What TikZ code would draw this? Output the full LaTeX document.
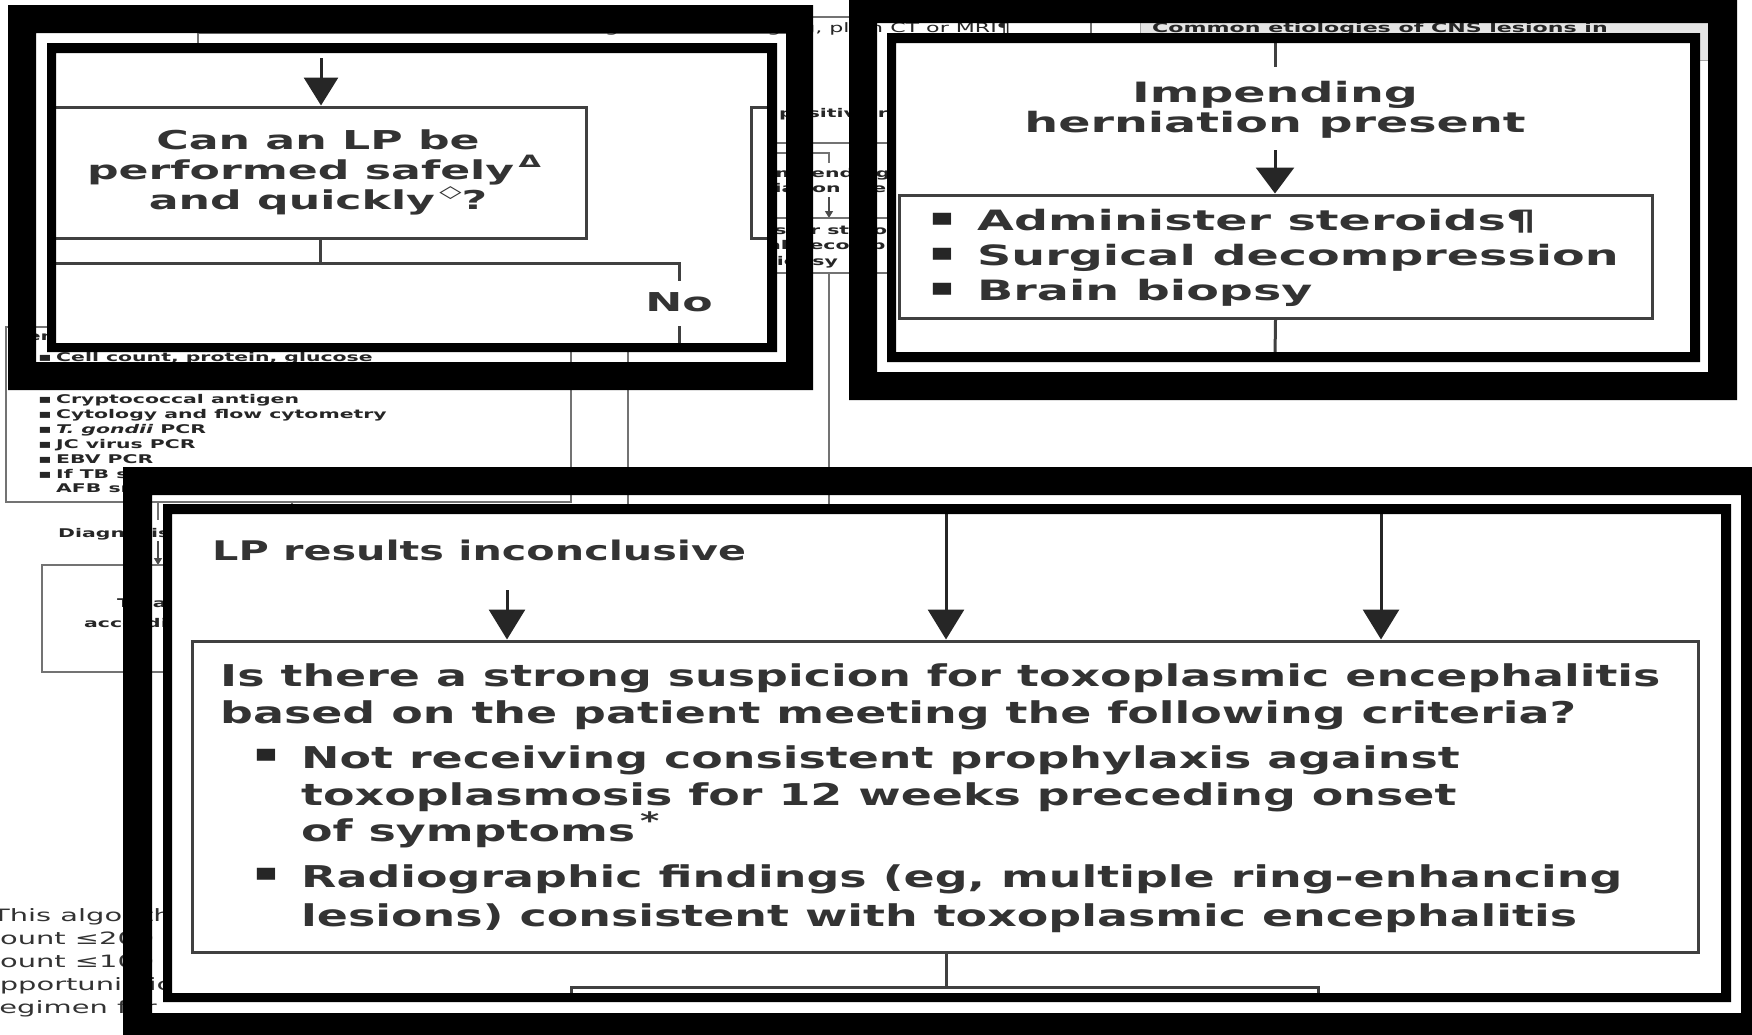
\documentclass[tikz,border=0pt]{standalone}
\usepackage{fontspec}
\usetikzlibrary{arrows.meta}
\newfontfamily\bgf{DejaVu Sans}[FakeStretch=1.7]
\newfontfamily\pA{DejaVu Sans}[FakeStretch=1.7]
\newfontfamily\pC{DejaVu Sans}[FakeStretch=1.53]
\newcommand\fs[2]{\fontsize{#1}{#2}\selectfont}
\newcommand\mysup[1]{\raisebox{0.45em}{\fs{17}{17}#1}}
\tikzset{
  bgline/.style={draw=black!55, line width=1.3pt},
  bgb/.style={font=\bgf\bfseries\fs{12}{15}, text=black!85, inner sep=0pt, anchor=base west},
  bgc/.style={font=\bgf\bfseries\fs{12}{15}, text=black!85, inner sep=0pt, anchor=base},
  bgr/.style={font=\bgf\fs{17}{23}, text=black!80, inner sep=0pt, anchor=base west},
  bgarrow/.style={draw=black!70, line width=1.3pt, -{Triangle[width=8pt,length=7pt]}},
  zline/.style={draw=black!75, line width=3pt},
  zarrow/.style={draw=black!85, line width=3pt, -{Triangle[width=34pt,length=28pt]}},
  zbox/.style={draw=black!75, line width=3pt, inner sep=0pt},
  ta/.style={font=\pA\bfseries\fs{26}{30}, text=black!80, inner sep=0pt, anchor=base},
  tb/.style={font=\pA\bfseries\fs{28}{32}, text=black!80, inner sep=0pt, anchor=base},
  tbl/.style={font=\pA\bfseries\fs{28}{32}, text=black!80, inner sep=0pt, anchor=base west},
  tc/.style={font=\pC\bfseries\fs{30}{36}, text=black!80, inner sep=0pt, anchor=base west},
  zbul/.style={font=\pC\fs{24}{24}, text=black!85, inner sep=0pt, anchor=center},
  ring/.style={fill=black, even odd rule},
}
\begin{document}
\begin{tikzpicture}[x=1pt,y=-1pt]
\useasboundingbox (0,0) rectangle (1752,1034);
\clip (0,0) rectangle (1752,1034);
\fill[white] (0,0) rectangle (1752,1034);

% ================= BACKGROUND FLOWCHART =================
% top strip
\draw[bgline] (198,60) -- (198,33) -- (790,33);
\draw[bgline] (700,17) -- (1091,17);
\draw[bgline] (1091,10) -- (1091,60);
\node[font=\bgf\fs{13}{15}, text=black!85, inner sep=0pt, anchor=base east] (ctmri) at (1011,32) {Obtain urgent brain imaging, plain CT or MRI¶};
\filldraw[fill=black!10, draw=black!35, line width=1pt] (1140,18) rectangle (1712,60);
\node[font=\bgf\bfseries\fs{13}{15}, text=black!85, inner sep=0pt, anchor=base west] (etio) at (1152,32) {Common etiologies of CNS lesions in};

% small herniation branch (unzoomed)
\node[bgb] (posr) at (779,117) {positive results};
\draw[bgline] (700,143) -- (960,143);
\coordinate (hc) at (829,153);
\draw[bgline] (760,153) -- (hc) -- (829,163);
\node[bgc] (imps) at (829,177) {Impending};
\node[bgc] (hers) at (829,192) {herniation present};
\draw[bgarrow] (829,197) -- (829,218);
\node[bgline, minimum width=342pt, minimum height=55pt, inner sep=0pt] (hbox) at (829,245.5) {};
\node[bgb] (bs1) at (674,234) {▪};
\node[bgb] (ts1) at (694,234) {Administer steroids¶};
\node[bgb] (bs2) at (674,249) {▪};
\node[bgb] (ts2) at (694,249) {Surgical decompression};
\node[bgb] (bs3) at (674,265) {▪};
\node[bgb] (ts3) at (694,265) {Brain biopsy};
\draw[bgline] (hbox.south) -- (829,520);

% left CSF box
\node[bgline, minimum width=565pt, minimum height=175pt, inner sep=0pt] (csf) at (288.5,414.5) {};
\node[bgb] (csfh) at (12,340) {Send CSF for:};
\node[bgb] (c0b) at (38,361) {▪};
\node[bgb] (c0) at (56,361) {Cell count, protein, glucose};
\node[bgb] (c1b) at (38,403) {▪};
\node[bgb] (c1) at (56,403) {Cryptococcal antigen};
\node[bgb] (c2b) at (38,418) {▪};
\node[bgb] (c2) at (56,418) {Cytology and flow cytometry};
\node[bgb] (c3b) at (38,433) {▪};
\node[bgb] (c3) at (56,433) {\itshape T. gondii\upshape{} PCR};
\node[bgb] (c4b) at (38,448) {▪};
\node[bgb] (c4) at (56,448) {JC virus PCR};
\node[bgb] (c5b) at (38,463) {▪};
\node[bgb] (c5) at (56,463) {EBV PCR};
\node[bgb] (c6b) at (38,478) {▪};
\node[bgb] (c6) at (56,478) {If TB suspected,};
\node[bgb] (c7) at (56,492) {AFB smear and culture};
\draw[bgline] (628,300) -- (628,520);
\draw[bgline] (292,502) -- (292,520);

\node[bgb] (diag) at (58,537) {Diagnosis made};
\draw[bgline] (158,502) -- (158,520);
\draw[bgarrow] (158,541) -- (158,565);
\node[bgline, minimum width=290pt, minimum height=107pt, inner sep=0pt] (treat) at (187,618.5) {};
\node[bgb] (tr1) at (117,607) {Treat the identified};
\node[bgb] (tr2) at (84,627) {according to diagnosis};

% footnote text
\node[bgr] (alg1) at (-8,921) {This algorithm is intended for};
\node[bgr] (alg2) at (-16,944) {count ≤200 cells};
\node[bgr] (alg3) at (-16,967) {count ≤100 cells};
\node[bgr] (alg4) at (-18,990) {opportunistic infection};
\node[bgr] (alg5) at (-12,1013) {regimen for};

% ================= PANEL 1 =================
\fill[white] (56,53) rectangle (767,343);
\begin{scope}
\clip (56,53) rectangle (767,343);
\node[zbox, minimum width=546pt, minimum height=131pt] (lpbox) at (313,172.5) {};
\coordinate (a1) at (321,58);
\draw[zarrow] (a1) -- (a1 |- lpbox.north);
\node[ta] (q1) at (318,149) {Can an LP be};
\node[ta] (q2) at (314,179) {performed safely\,\mysup{Δ}};
\node[ta] (q3) at (318,209) {and quickly\,\mysup{◇}?};
\coordinate (j1) at (320,263);
\coordinate (j2) at (679,263);
\draw[zline] (lpbox.south -| j1) -- (j1);
\draw[zline] (40,263) -- (j2) -- (679,281);
\node[ta] (no) at (679,311) {No};
\draw[zline] (679,326) -- (679,350);
\node[zbox, minimum width=80pt, minimum height=131pt] (posbox) at (791,172.5) {};
\end{scope}
\fill[ring] (47,43) rectangle (777,352) (56,53) rectangle (767,343);
\fill[ring] (8,5) rectangle (813,390) (36,33) rectangle (786,362);

% ================= PANEL 2 =================
\fill[white] (896,43) rectangle (1690,352);
\begin{scope}
\clip (896,43) rectangle (1690,352);
\coordinate (t2) at (1275,40);
\draw[zline] (t2) -- (1275,67);
\node[tb] (imp) at (1275,102) {Impending};
\node[tb] (her) at (1275,132) {herniation present};
\node[zbox, minimum width=753pt, minimum height=123pt] (sbox) at (1275.5,256.5) {};
\coordinate (a2) at (1275,150);
\draw[zarrow, -{Triangle[width=38pt,length=26pt]}] (a2) -- (a2 |- sbox.north);
\node[zbul] (b1) at (942,219) {▪};
\node[tbl] (s1) at (977,230) {Administer steroids¶};
\node[zbul] (b2) at (942,254) {▪};
\node[tbl] (s2) at (977,265) {Surgical decompression};
\node[zbul] (b3) at (942,289) {▪};
\node[tbl] (s3) at (977,300) {Brain biopsy};
\draw[zline] (sbox.south) -- (1275,356);
\end{scope}
\fill[ring] (887,33) rectangle (1700,362) (896,43) rectangle (1690,352);
\fill[ring] (849,0) rectangle (1737,400) (877,23) rectangle (1708,372);

% ================= PANEL 3 =================
\fill[white] (172,514) rectangle (1721,993);
\begin{scope}
\clip (172,514) rectangle (1721,993);
\node[font=\pC\bfseries\fs{27}{32}, text=black!80, inner sep=0pt, anchor=base west] (lpr) at (212,560) {LP results inconclusive};
\node[zbox, minimum width=1506pt, minimum height=311pt] (tbox) at (945,796.5) {};
\coordinate (a3) at (507,590);
\coordinate (a4) at (946,510);
\coordinate (a5) at (1381,510);
\draw[zarrow, -{Triangle[width=36pt,length=30pt]}] (a3) -- (a3 |- tbox.north);
\draw[zarrow, -{Triangle[width=36pt,length=30pt]}] (a4) -- (a4 |- tbox.north);
\draw[zarrow, -{Triangle[width=36pt,length=30pt]}] (a5) -- (a5 |- tbox.north);
\node[tc] (l1) at (220,686) {Is there a strong suspicion for toxoplasmic encephalitis};
\node[tc] (l2) at (220,723) {based on the patient meeting the following criteria?};
\node[zbul] (k1) at (266,755) {▪};
\node[tc] (m1) at (301,768) {Not receiving consistent prophylaxis against};
\node[tc] (m2) at (301,805) {toxoplasmosis for 12 weeks preceding onset};
\node[tc] (m3) at (301,841) {of symptoms\,\raisebox{0.4em}{\fs{24}{24}*}};
\node[zbul] (k2) at (266,874) {▪};
\node[tc] (m4) at (301,887) {Radiographic findings (eg, multiple ring-enhancing};
\node[tc] (m5) at (301,926) {lesions) consistent with toxoplasmic encephalitis};
\coordinate (j3) at (946,987);
\draw[zline] (tbox.south -| j3) -- (j3);
\draw[zline] (571,1000) -- (571,987) -- (1318,987) -- (1318,1000);
\end{scope}
\fill[ring] (163,504) rectangle (1731,1002) (172,514) rectangle (1721,993);
\fill[ring] (123,467) rectangle (1769,1041) (152,495) rectangle (1741,1013);
\end{tikzpicture}
\end{document}
